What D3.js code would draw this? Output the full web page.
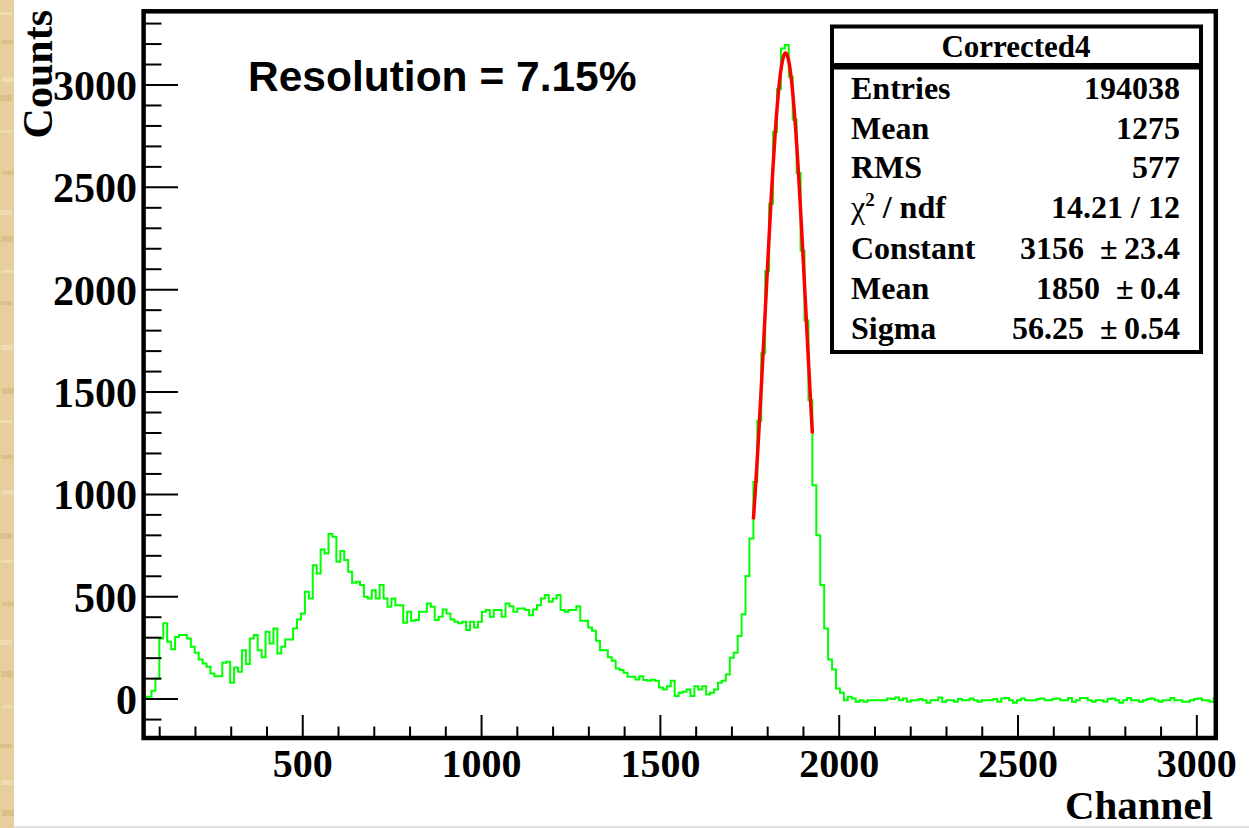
<!DOCTYPE html>
<html>
<head>
<meta charset="utf-8">
<script src="https://cdn.jsdelivr.net/npm/d3@7"></script>
<style>
  body { margin: 0; background: #fff; }
  svg { display: block; }
  text { white-space: pre; }
</style>
</head>
<body>
<script>
// histogram: 11 channel bins, first shown bin starts at channel 55
var binWidth = 11;
var firstBinLow = 55;

var lowPart = [11, 11, 41, 101, 296, 370, 280, 243, 304, 313, 313, 296, 256, 226, 194, 174, 158, 125, 112, 112,
  177, 182, 80, 155, 134, 239, 171, 296, 313, 239, 204, 329, 272, 345, 223, 256, 291, 291, 345, 389,
  418, 524, 492, 654, 614, 731, 711, 806, 793, 671, 724, 679, 622, 568, 573, 557, 500, 492, 532, 492,
  557, 492, 451];
var midPart = [492, 459, 459, 373, 427, 383, 386, 427, 427, 467, 451, 386, 402, 438, 418, 389, 378, 370, 378, 337,
  378, 350, 378, 427, 435, 402, 435, 435, 402, 467, 454, 427, 443, 443, 435, 410, 438, 459, 492, 508,
  475, 492, 508, 435, 427, 435, 435, 454, 383, 383, 350, 334, 285, 239, 239, 204, 187, 150, 142, 129,
  109, 109, 96, 112, 93];
var valleyPart = [90, 95, 90, 57, 47, 63, 90, 15, 31, 36, 47, 15, 63, 47, 63, 23, 31, 47, 80, 90,
  120, 202, 226, 308, 415, 601, 785];
var peakPart = [1061, 1360, 1690, 2090, 2420, 2770, 2980, 3178, 3195, 3040, 2830, 2570, 2190, 1850, 1460,
  1045, 801, 557, 345, 194, 145, 52, 31, -5, 11, 3, -13];
var tailPart = [-5, -13, -5, -5, -5, -5, -5, 3, 0, 8,
  -5, 3, -13, -5, -5, 0, -5, -18, -5, -5,
  8, -13, -5, -5, -13, 0, -5, -5, 3, -5,
  -13, -5, -5, -5, 0, -13, 3, 5, -5, -18,
  -5, 3, -5, -5, -5, 0, 3, -5, -5, 0,
  3, -5, -5, 5, -13, -5, 5, 5, -5, -13,
  -5, -5, -13, 0, 3, -5, -18, -5, 5, -5,
  -5, -13, -5, 0, 3, -5, -13, -5, -5, 5,
  -5, -5, -13, -13, -5, 0, 3, -5, -5, -13,
  3];
var counts = lowPart.concat(midPart, valleyPart, peakPart, tailPart);

// gaussian fit
var fitConstant = 3156, fitMean = 1850, fitSigma = 56.25;
var fitRange = [1760, 1925];

var xTicks = [500, 1000, 1500, 2000, 2500, 3000];
var yTicks = [0, 500, 1000, 1500, 2000, 2500, 3000];
var xDomain = [55, 3053];
var yDomain = [-190, 3360];

var statsTitle = 'Corrected4';
var statsLabels = ['Entries', 'Mean', 'RMS', 'chi', 'Constant', 'Mean', 'Sigma'];
var statsValues = ['194038', '1275', '577', '14.21 / 12', '3156  \u00b1\u200923.4', '1850  \u00b1\u20090.4', '56.25  \u00b1\u20090.54'];

var serif = '"Liberation Serif", "Times New Roman", serif';
var sans = '"Liberation Sans", Arial, sans-serif';

var svg = d3.select('body').append('svg')
    .attr('width', 1249)
    .attr('height', 828);

// parchment strip on the left
svg.append('rect').attr('x', 0).attr('y', 0).attr('width', 14).attr('height', 828).attr('fill', '#e6cf9c');
var stripes = [12, 40, 77, 95, 130, 171, 210, 236, 270, 301, 345, 388, 420, 455, 490, 533, 560, 602, 640, 671, 705, 744, 780, 810];
stripes.forEach(function(s, i) {
  svg.append('rect').attr('x', i % 3).attr('y', s).attr('width', 12).attr('height', 3 + i % 4)
    .attr('fill', i % 2 ? '#d8bd85' : '#f0dfb5').attr('opacity', 0.8);
});
svg.append('rect').attr('x', 14).attr('y', 826).attr('width', 1235).attr('height', 2).attr('fill', '#e2e2e2');

var x = d3.scaleLinear().domain(xDomain).range([143.6, 1215.8]);
var y = d3.scaleLinear().domain(yDomain).range([738, 11.3]);

svg.append('clipPath').attr('id', 'frame')
  .append('rect').attr('x', x(xDomain[0])).attr('y', y(yDomain[1]))
  .attr('width', x(xDomain[1]) - x(xDomain[0])).attr('height', y(yDomain[0]) - y(yDomain[1]));

// histogram steps
var pts = [[firstBinLow, yDomain[0]]];
counts.forEach(function(c, i) { pts.push([firstBinLow + i * binWidth, c]); });
pts.push([firstBinLow + counts.length * binWidth, counts[counts.length - 1]]);

var step = d3.line().x(function(d) { return x(d[0]); }).y(function(d) { return y(d[1]); }).curve(d3.curveStepAfter);
svg.append('path').attr('d', step(pts))
  .attr('fill', 'none').attr('stroke', '#00ff00').attr('stroke-width', 2)
  .attr('clip-path', 'url(#frame)');

// fit curve
var fitPts = d3.range(fitRange[0], fitRange[1] + 0.5, 1).map(function(c) {
  var z = (c - fitMean) / fitSigma;
  return [c, fitConstant * Math.exp(-0.5 * z * z)];
});
svg.append('path').attr('d', d3.line().x(function(d) { return x(d[0]); }).y(function(d) { return y(d[1]); })(fitPts))
  .attr('fill', 'none').attr('stroke', '#ff0000').attr('stroke-width', 3.5);

// ticks
var minorY = d3.range(-100, 3301, 100);
minorY.forEach(function(v) {
  var major = v % 500 === 0;
  svg.append('line').attr('x1', 144).attr('x2', major ? 178 : 161.5)
    .attr('y1', y(v)).attr('y2', y(v)).attr('stroke', '#000').attr('stroke-width', 2);
});
var minorX = d3.range(100, 3001, 100);
minorX.forEach(function(v) {
  var major = v % 500 === 0;
  svg.append('line').attr('x1', x(v)).attr('x2', x(v))
    .attr('y1', 738).attr('y2', major ? 715 : 726.5).attr('stroke', '#000').attr('stroke-width', 2);
});

// frame
svg.append('rect').attr('x', x(xDomain[0])).attr('y', y(yDomain[1]))
  .attr('width', x(xDomain[1]) - x(xDomain[0])).attr('height', y(yDomain[0]) - y(yDomain[1]))
  .attr('fill', 'none').attr('stroke', '#000').attr('stroke-width', 4.5);

// tick labels
svg.selectAll('.ylab').data(yTicks).enter().append('text')
  .attr('x', 137).attr('y', function(d) { return y(d) + 15; })
  .attr('text-anchor', 'end').attr('font-family', serif).attr('font-weight', 'bold').attr('font-size', 42)
  .text(function(d) { return d; });
svg.selectAll('.xlab').data(xTicks).enter().append('text')
  .attr('x', function(d) { return x(d); }).attr('y', 777)
  .attr('text-anchor', 'middle').attr('font-family', serif).attr('font-weight', 'bold').attr('font-size', 40)
  .text(function(d) { return d; });

// axis titles
svg.append('text').attr('transform', 'translate(51.5,10) rotate(-90)')
  .attr('text-anchor', 'end').attr('font-family', serif).attr('font-weight', 'bold').attr('font-size', 42)
  .text('Counts');
svg.append('text').attr('x', 1213).attr('y', 819)
  .attr('text-anchor', 'end').attr('font-family', serif).attr('font-weight', 'bold').attr('font-size', 41)
  .text('Channel');

svg.append('text').attr('x', 248).attr('y', 91)
  .attr('font-family', sans).attr('font-weight', 'bold').attr('font-size', 42.5)
  .text('Resolution = 7.15%');

// stats box
svg.append('rect').attr('x', 832).attr('y', 26.5).attr('width', 369).attr('height', 325.5)
  .attr('fill', '#fff').attr('stroke', '#000').attr('stroke-width', 4);
svg.append('line').attr('x1', 832).attr('x2', 1201).attr('y1', 66.3).attr('y2', 66.3)
  .attr('stroke', '#000').attr('stroke-width', 6.5);
svg.append('text').attr('x', 1016).attr('y', 57).attr('text-anchor', 'middle')
  .attr('font-family', serif).attr('font-weight', 'bold').attr('font-size', 31)
  .text(statsTitle);

var rowY = [98.5, 138.5, 177.5, 218, 258.5, 299, 338.5];
statsLabels.forEach(function(l, i) {
  var t = svg.append('text').attr('x', 851).attr('y', rowY[i])
    .attr('font-family', serif).attr('font-weight', 'bold').attr('font-size', 32);
  if (l === 'chi') {
    t.append('tspan').attr('font-weight', 'normal').text('\u03c7');
    t.append('tspan').attr('font-size', 19).attr('dy', -12).text('2');
    t.append('tspan').attr('dy', 12).text(' / ndf');
  } else {
    t.text(l);
  }
  svg.append('text').attr('x', 1180).attr('y', rowY[i]).attr('text-anchor', 'end')
    .attr('font-family', serif).attr('font-weight', 'bold').attr('font-size', 32)
    .text(statsValues[i]);
});
</script>
</body>
</html>
